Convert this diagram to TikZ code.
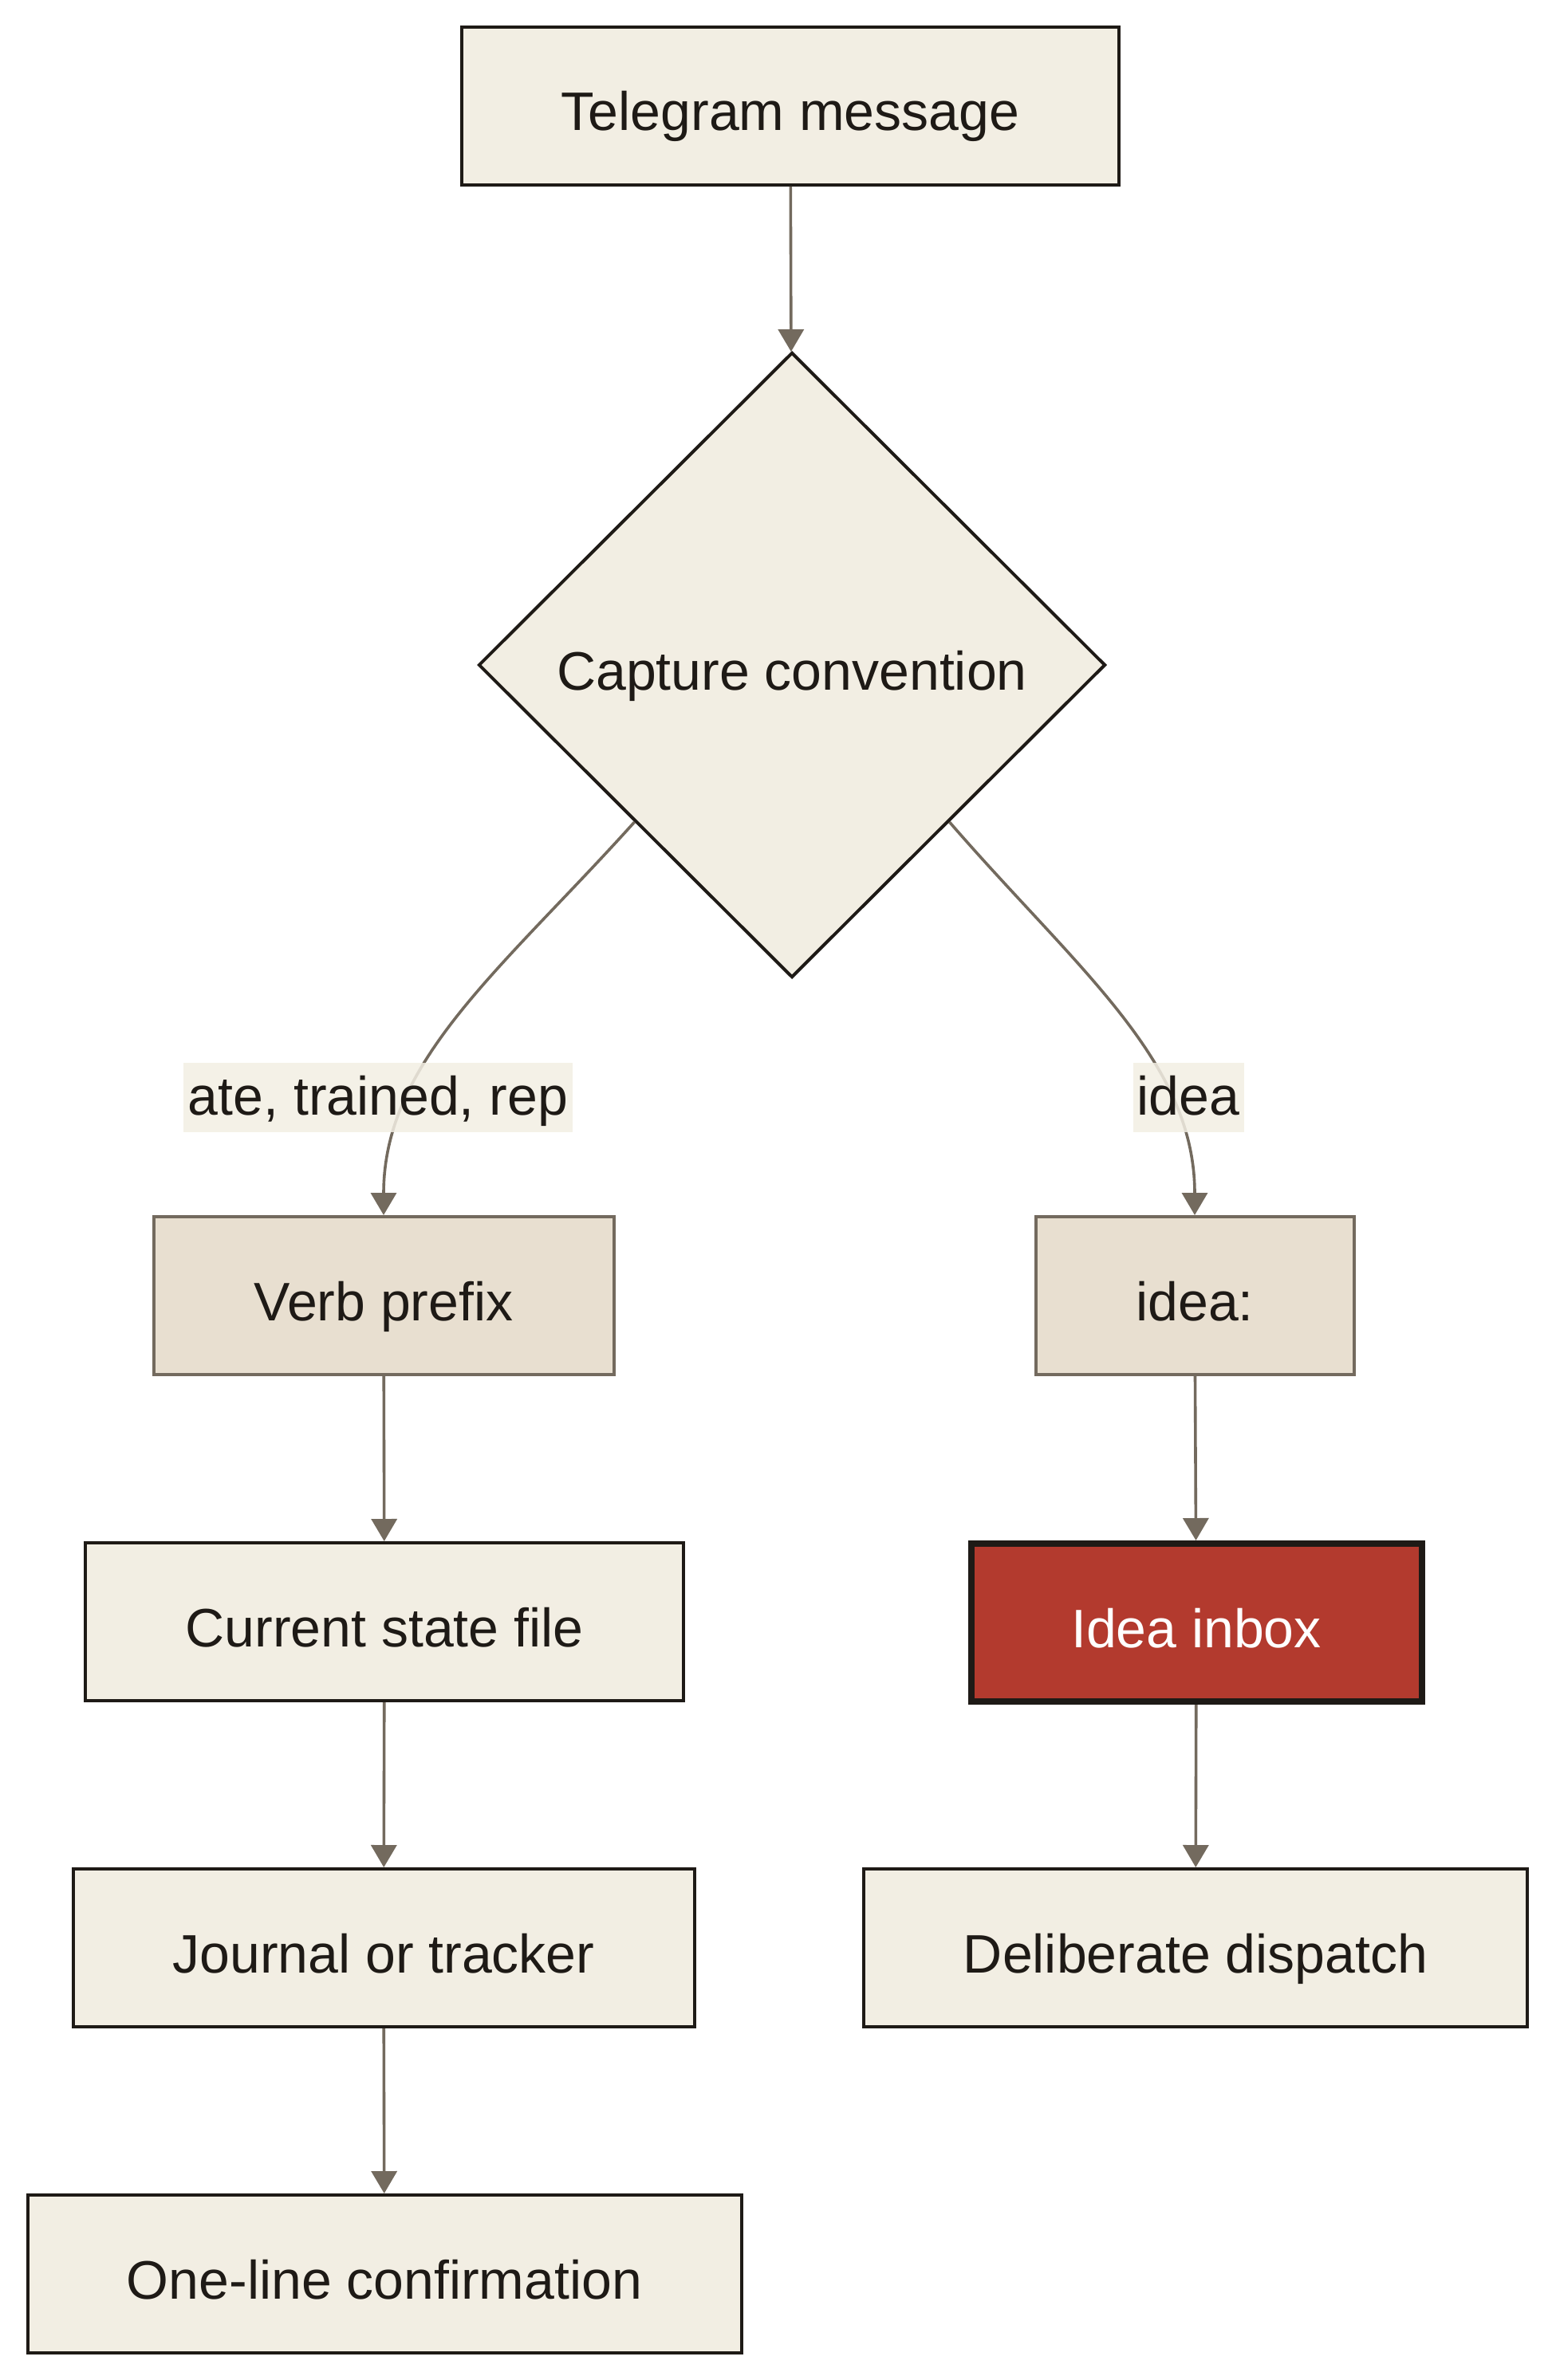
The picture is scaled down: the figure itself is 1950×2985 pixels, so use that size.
\documentclass[tikz,border=0pt]{standalone}
\usepackage{fontspec}
\setmainfont{Liberation Sans}
\usetikzlibrary{shapes.geometric,arrows.meta}
\definecolor{paper}{HTML}{F2EEE3}
\definecolor{sand}{HTML}{E8DFD0}
\definecolor{ink}{HTML}{1E1A16}
\definecolor{stone}{HTML}{736A5E}
\definecolor{brick}{HTML}{B33A2E}
\begin{document}
\begin{tikzpicture}[x=0.5pt,y=-0.5pt]
		\tikzstyle{words}=[text=ink,inner sep=0pt,text height=31pt,text depth=0pt,font=\fontsize{34}{40}\selectfont]
		\tikzstyle{box}=[words,rectangle,draw=ink,line width=2pt,fill=paper,minimum height=99pt]
		\tikzstyle{prefixbox}=[box,draw=stone,fill=sand]
		\tikzstyle{hotbox}=[box,fill=brick,text=white,line width=4pt]
		\tikzstyle{choice}=[words,diamond,draw=ink,line width=2pt,fill=paper,aspect=1,minimum width=393pt,minimum height=392pt]
		\tikzstyle{edgetag}=[words,text height=22pt,rectangle,fill=paper,fill opacity=0.85,text opacity=1,minimum height=43.5pt]
		\tikzstyle{link}=[draw=stone,line width=1.8pt,-{Triangle[length=14pt,width=16pt]}]
		\useasboundingbox (0,0) rectangle (1950,2985);
		\node[box,minimum width=412pt] (msg) at (991,133) {Telegram message};
		\node[choice] (conv) at (993,834) {Capture convention};
		\node[prefixbox,minimum width=288.5pt] (verb) at (481,1625) {Verb prefix};
		\node[prefixbox,minimum width=199.5pt] (ideap) at (1498,1625) {idea:};
		\node[box,minimum width=375pt] (state) at (482,2034) {Current state file};
		\node[hotbox,minimum width=282.5pt] (inbox) at (1500,2035) {Idea inbox};
		\node[box,minimum width=389.5pt] (journal) at (481,2443) {Journal or tracker};
		\node[box,minimum width=416pt] (dispatch) at (1499,2443) {Deliberate dispatch};
		\node[box,minimum width=447.5pt] (confirm) at (482,2852) {One-line confirmation};
		\draw[link] (msg) -- (conv);
		\draw[link] (conv.south west) .. controls (630,1215) and (481,1330) .. (verb.north);
		\draw[link] (conv.south east) .. controls (1350,1215) and (1498,1330) .. (ideap.north);
		\draw[link] (verb) -- (state);
		\draw[link] (state) -- (journal);
		\draw[link] (journal) -- (confirm);
		\draw[link] (ideap) -- (inbox);
		\draw[link] (inbox) -- (dispatch);
		\node[edgetag,minimum width=244pt] (verbtag) at (474,1376) {ate, trained, rep};
		\node[edgetag,minimum width=69.5pt] (ideatag) at (1490,1376) {idea};
	\end{tikzpicture}
\end{document}
